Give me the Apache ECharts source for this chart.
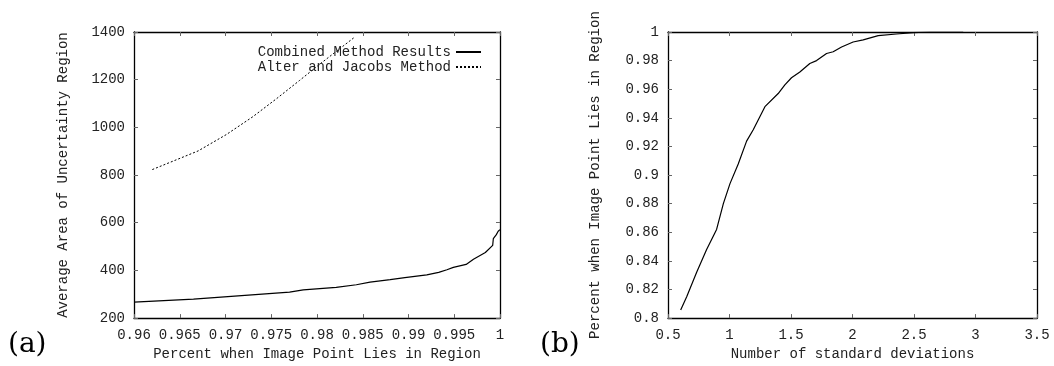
<!DOCTYPE html>
<html>
<head>
<meta charset="utf-8">
<script src="https://cdn.jsdelivr.net/npm/echarts@6/dist/echarts.min.js"></script>
<style>
  html, body { margin: 0; padding: 0; background: #fff; }
  #main { width: 1054px; height: 366px; }
</style>
</head>
<body>
<div id="main"></div>
<script>
// (a) Average area of uncertainty region vs percent
var combinedX = [0.96, 0.9665, 0.977, 0.9785, 0.9821, 0.9843, 0.9858, 0.988, 0.9896, 0.992, 0.9933, 0.9942, 0.9949, 0.9963, 0.9971, 0.9984, 0.9992, 0.99927, 0.9996, 0.9998, 1.0];
var combinedY = [267, 280, 309, 318, 329, 340, 351, 361, 370, 381, 392, 403, 413, 425, 447, 475, 505, 533, 550, 564, 571];
var alterX = [0.962, 0.967, 0.9701, 0.973, 0.9756, 0.9781, 0.9803, 0.984];
var alterY = [823, 901, 970, 1045, 1121, 1197, 1265, 1375];

// (b) Percent vs number of standard deviations
var sdX = [0.603, 0.652, 0.733, 0.814, 0.895, 0.95, 1.004, 1.071, 1.139, 1.193, 1.288, 1.396, 1.45, 1.504, 1.572, 1.653, 1.708, 1.789, 1.843, 1.911, 2.005, 2.087, 2.209, 2.357, 2.493, 2.63, 2.9];
var sdY = [0.8057, 0.8149, 0.832, 0.848, 0.862, 0.88, 0.894, 0.9077, 0.9237, 0.9317, 0.9478, 0.957, 0.963, 0.968, 0.972, 0.978, 0.980, 0.985, 0.9862, 0.9895, 0.993, 0.9945, 0.9975, 0.9986, 0.9995, 1.0, 1.0];

var axisFont = 'Liberation Mono';

function pairs(xs, ys) {
  return xs.map(function (x, i) { return [x, ys[i]]; });
}

function mainX(grid, min, max, interval, name, digits) {
  return {
    type: 'value', gridIndex: grid, min: min, max: max, interval: interval,
    name: name, nameLocation: 'middle', nameGap: 23,
    nameTextStyle: { fontFamily: axisFont, fontSize: 14, color: '#222' },
    axisLine: { show: true, lineStyle: { color: '#000', width: 1.3 } },
    axisTick: { show: true, inside: true, length: 4, lineStyle: { color: '#666' } },
    axisLabel: {
      fontFamily: axisFont, fontSize: 14, color: '#222', margin: 10,
      formatter: function (v) { return String(+v.toFixed(digits)); }
    },
    splitLine: { show: false }
  };
}

function mainY(grid, min, max, interval, name, digits, gap) {
  return {
    type: 'value', gridIndex: grid, min: min, max: max, interval: interval,
    name: name, nameLocation: 'middle', nameGap: gap,
    nameTextStyle: { fontFamily: axisFont, fontSize: 14, color: '#222' },
    axisLine: { show: true, lineStyle: { color: '#000', width: 1.3 } },
    axisTick: { show: true, inside: true, length: 4, lineStyle: { color: '#666' } },
    axisLabel: {
      fontFamily: axisFont, fontSize: 14, color: '#222', margin: 9,
      formatter: function (v) { return String(+v.toFixed(digits)); }
    },
    splitLine: { show: false }
  };
}

// frame sides with mirrored inward ticks (top / right)
function mirror(grid, min, max, interval, pos) {
  return {
    type: 'value', gridIndex: grid, min: min, max: max, interval: interval, position: pos,
    axisLine: { show: true, onZero: false, lineStyle: { color: '#000', width: 1.3 } },
    axisTick: { show: true, inside: true, length: 4, lineStyle: { color: '#666' } },
    axisLabel: { show: false },
    splitLine: { show: false }
  };
}

var chart = echarts.init(document.getElementById('main'));

var option = {
  animation: false,
  backgroundColor: '#fff',
  title: [
    { text: '(a)', left: 8, top: 331, padding: 0,
      textStyle: { fontFamily: 'DejaVu Serif', fontSize: 28, fontWeight: 'normal', color: '#000' } },
    { text: '(b)', left: 540, top: 331, padding: 0,
      textStyle: { fontFamily: 'DejaVu Serif', fontSize: 28, fontWeight: 'normal', color: '#000' } }
  ],
  legend: {
    orient: 'vertical', align: 'right', right: 567, top: 40,
    itemWidth: 25, itemHeight: 14, itemGap: 1,
    itemStyle: { opacity: 0 },
    textStyle: { fontFamily: axisFont, fontSize: 14, color: '#222' },
    data: ['Combined Method Results', 'Alter and Jacobs Method']
  },
  grid: [
    { left: 134, top: 32, width: 366, height: 291 },
    { left: 668, top: 32, width: 369, height: 291 }
  ],
  xAxis: [
    mainX(0, 0.96, 1, 0.005, 'Percent when Image Point Lies in Region', 3),
    mainX(1, 0.5, 3.5, 0.5, 'Number of standard deviations', 1),
    mirror(0, 0.96, 1, 0.005, 'top'),
    mirror(1, 0.5, 3.5, 0.5, 'top')
  ],
  yAxis: [
    mainY(0, 200, 1400, 200, 'Average Area of Uncertainty Region', 0, 64),
    mainY(1, 0.8, 1, 0.02, 'Percent when Image Point Lies in Region', 2, 66),
    mirror(0, 200, 1400, 200, 'right'),
    mirror(1, 0.8, 1, 0.02, 'right')
  ],
  series: [
    {
      name: 'Combined Method Results', type: 'line', xAxisIndex: 0, yAxisIndex: 0,
      symbol: 'none', data: pairs(combinedX, combinedY),
      lineStyle: { color: '#000', width: 1.2, type: 'solid' },
      itemStyle: { color: '#000' }
    },
    {
      name: 'Alter and Jacobs Method', type: 'line', xAxisIndex: 0, yAxisIndex: 0,
      symbol: 'none', data: pairs(alterX, alterY),
      lineStyle: { color: '#000', width: 1, type: [2, 2] },
      itemStyle: { color: '#000' }
    },
    {
      name: 'sd', type: 'line', xAxisIndex: 1, yAxisIndex: 1,
      symbol: 'none', data: pairs(sdX, sdY),
      lineStyle: { color: '#000', width: 1.2 },
      itemStyle: { color: '#000' }
    }
  ]
};

option && chart.setOption(option);
</script>
</body>
</html>
